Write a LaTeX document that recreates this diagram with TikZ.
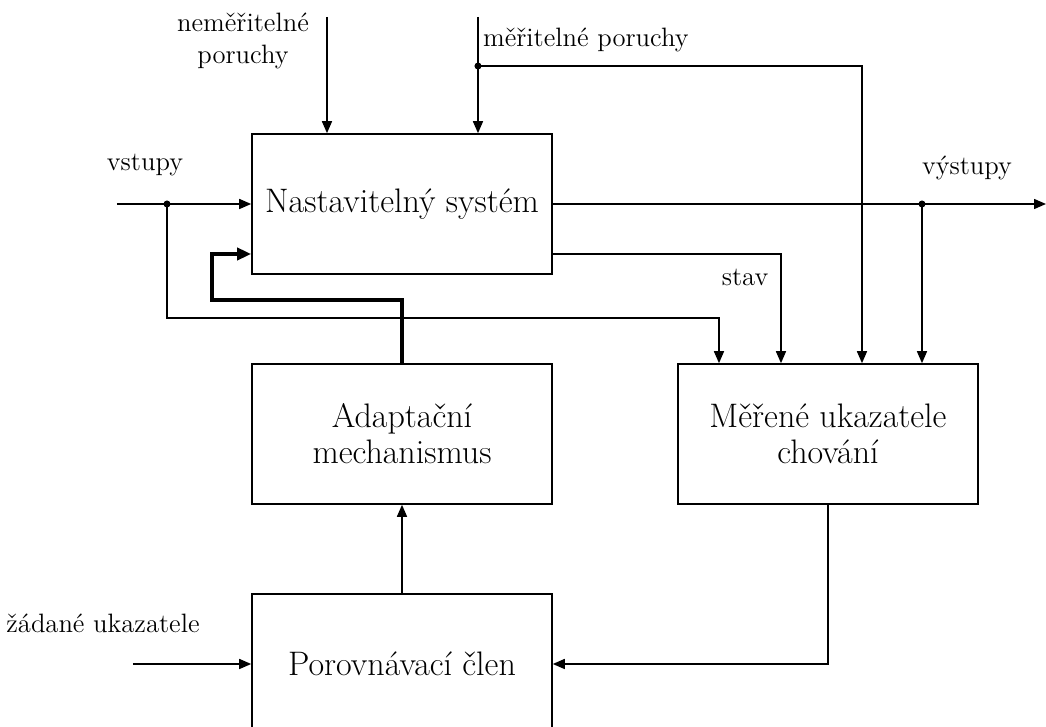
\documentclass[tikz,border=0pt]{standalone}
\usepackage{tikz}
\usetikzlibrary{positioning, arrows.meta, calc}

\tikzset{
  block/.style={draw, fill=white, line width=0.8pt, minimum width=150pt, minimum height=70pt,
                align=center, font=\fontsize{17}{18}\selectfont},
  sig/.style={line width=0.75pt, -{Triangle[length=6pt, width=5pt]}},
  feedback/.style={line width=2pt, -{Triangle[length=7pt, width=6pt]}},
  lbl/.style={font=\fontsize{13.3}{16}\selectfont, align=center},
  junction/.style={circle, fill, inner sep=0pt, minimum size=3.5pt}
}

\begin{document}
\begin{tikzpicture}[x=0.5pt, y=0.5pt, node distance=115pt and 213pt, on grid]
    \fill[white] (-402,204) rectangle (644,-523);
    \useasboundingbox (-402,204) rectangle (644,-523);

    % Bloky
    \node[block] (NS) {Nastavitelný systém};
    \node[block] (AM) [below=of NS] {Adaptační\\mechanismus};
    \node[block] (MU) [right=of AM] {Měřené ukazatele\\chování};
    \node[block] (PC) [below=of AM] {Porovnávací člen};

    % Volné konce a uzly
    \coordinate (nmIn) at (-75,187);
    \coordinate (mIn) at (76,187);
    \coordinate (mJ) at (76,138);
    \coordinate (vIn) at (-285,0);
    \coordinate (vJ) at (-235,0);
    \coordinate (out) at (644,0);
    \coordinate (outJ) at (520,0);
    \coordinate (zIn) at (-269,-460);

    % Popisky
    \node[lbl] (lNm) at (-159,163) {neměřitelné\\poruchy};
    \node[lbl, anchor=west] (lM) at (74,164) {měřitelné poruchy};
    \node[lbl] (lV) at (-257,39) {vstupy};
    \node[lbl] (lOut) at (565,36) {výstupy};
    \node[lbl] (lS) at (343,-73) {stav};
    \node[lbl] (lZ) at (-299,-419) {žádané ukazatele};

    % Poruchy
    \draw[sig] (nmIn) -- (nmIn |- NS.north);
    \draw[sig] (mIn) -- (mIn |- NS.north);
    \draw[sig] (mJ) -| ($(MU.north)+(34,0)$);

    % Vstupy a vystupy
    \draw[sig] (vIn) -- (NS.west);
    \draw[sig] (vJ) -- ++(0,-114) -| ($(MU.north)+(-109,0)$);
    \draw[sig] (NS.east) -- (out);
    \draw[sig] (outJ) -- (outJ |- MU.north);
    \draw[sig] ($(NS.east)+(0,-50)$) -| ($(MU.north)+(-47,0)$);

    % Zpetna vazba
    \draw[feedback] (AM.north) -- ++(0,63) -| ($(NS.west)+(-39,-50)$) -- ($(NS.west)+(0,-50)$);
    \draw[sig] (PC.north) -- (AM.south);
    \draw[sig] (MU.south) |- (PC.east);
    \draw[sig] (zIn) -- (PC.west);

    \node[junction] at (vJ) {};
    \node[junction] at (mJ) {};
    \node[junction] at (outJ) {};
\end{tikzpicture}
\end{document}
